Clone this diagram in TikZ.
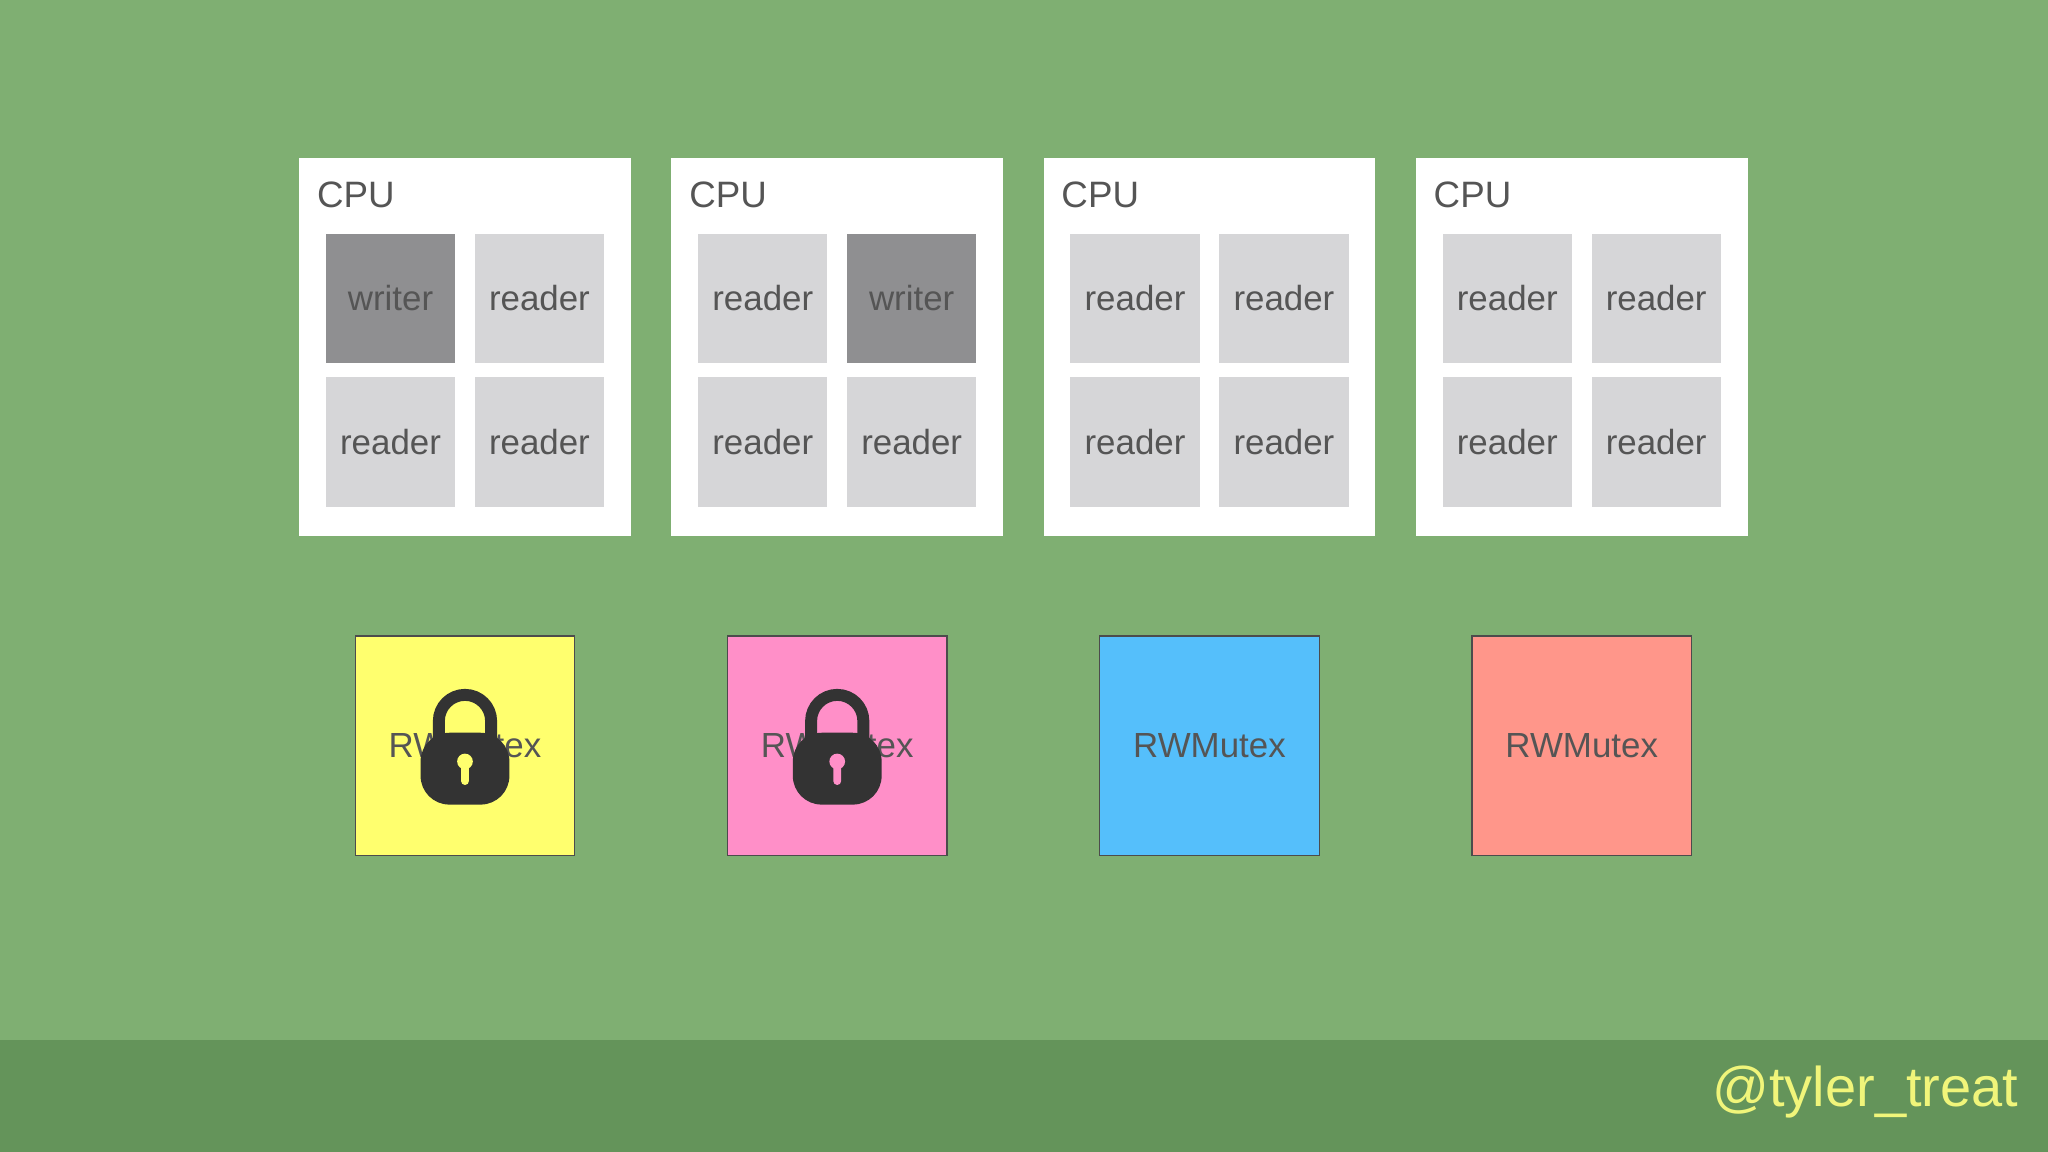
\documentclass[tikz,border=0pt]{standalone}
\usepackage{fontspec}
\setmainfont{Liberation Sans}
\definecolor{bg}{HTML}{7FAF72}
\definecolor{band}{HTML}{64945A}
\definecolor{cellc}{HTML}{D6D6D8}
\definecolor{writerc}{HTML}{8F8F91}
\definecolor{txt}{HTML}{555555}
\definecolor{handle}{HTML}{F0F57A}
\definecolor{mya}{HTML}{FFFF6E}
\definecolor{myb}{HTML}{FF8FC8}
\definecolor{myc}{HTML}{55BFFB}
\definecolor{myd}{HTML}{FF968A}
\definecolor{lockc}{HTML}{333333}
\tikzset{
 cpubox/.style={fill=white,draw=none,minimum width=25.4mm,minimum height=28.9mm,inner sep=0},
 cpulabel/.style={text=txt,font=\fontsize{8}{9}\selectfont,anchor=west,inner sep=0},
 cell/.style={fill=cellc,minimum width=9.9mm,minimum height=9.9mm,inner sep=0,text=txt,font=\fontsize{7.6}{9}\selectfont},
 wcell/.style={cell,fill=writerc},
 mutex/.style={draw=gray!60!black,line width=0.3pt,minimum width=16.8mm,minimum height=16.8mm,inner sep=0,text=txt,font=\fontsize{7.6}{9}\selectfont},
}
\begin{document}
\begin{tikzpicture}[x=0.1mm,y=-0.1mm]
\fill[bg] (0,0) rectangle (1568,882);
\fill[band] (0,796) rectangle (1568,882);
\node[anchor=east,text=handle,font=\fontsize{12.2}{14}\selectfont,inner sep=0] (handle) at (1546,836) {@tyler\_treat};
\foreach \i/\ca/\ta/\cb/\tb/\col in {0/wcell/writer/cell/reader/mya,1/cell/reader/wcell/writer/myb,2/cell/reader/cell/reader/myc,3/cell/reader/cell/reader/myd}{
 \node[cpubox] (cpu\i) at ({356+285*\i},265.5) {};
 \node[cpulabel] (lab\i) at ({242+285*\i},149) {CPU};
 \node[\ca] (c\i a) at ({299+285*\i},228.5) {\ta};
 \node[\cb] (c\i b) at ({413+285*\i},228.5) {\tb};
 \node[cell] (c\i c) at ({299+285*\i},338.5) {reader};
 \node[cell] (c\i d) at ({413+285*\i},338.5) {reader};
 \node[mutex,fill=\col] (m\i) at ({356+285*\i},571) {RWMutex};
}
\foreach \i/\col in {0/mya,1/myb}{
 \begin{scope}[shift={(356+285*\i,0)}]
  \draw[lockc,line width=2.6pt] (-20,566) -- (-20,552) arc[start angle=180,end angle=360,radius=20] -- (20,566);
  \fill[lockc,rounded corners=2.2mm] (-34,561) rectangle (34,616);
  \fill[\col] (0,583) circle[radius=6];
  \fill[\col,rounded corners=0.3mm] (-3,583) rectangle (3,601);
 \end{scope}
}
\end{tikzpicture}
\end{document}
